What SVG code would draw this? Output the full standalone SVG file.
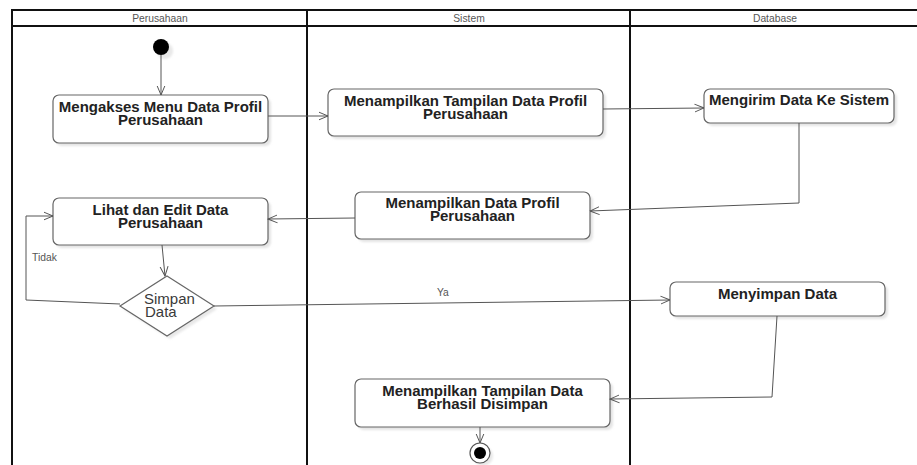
<svg xmlns="http://www.w3.org/2000/svg" width="917" height="465" viewBox="0 0 917 465">
  <style>
    .lane { stroke: #111; stroke-width: 2; fill: none; }
    .hdr { font-family: "Liberation Sans", Arial, sans-serif; font-size: 10.3px; fill: #555; text-anchor: middle; }
    .box { fill: #fff; stroke: #666; stroke-width: 1.2; }
    .shadow { fill: #e4e4e4; filter: url(#soft); }
    .lbl { font-family: "Liberation Sans", Arial, sans-serif; font-size: 15px; font-weight: bold; fill: #222; text-anchor: middle; }
    .dlbl { font-family: "Liberation Sans", Arial, sans-serif; font-size: 15px; fill: #3a3a3a; }
    .glbl { font-family: "Liberation Sans", Arial, sans-serif; font-size: 10.3px; fill: #555; }
    .edge { stroke: #555; stroke-width: 1; fill: none; marker-end: url(#open); }
  </style>
  <defs>
    <filter id="soft" x="-10%" y="-10%" width="120%" height="130%">
      <feGaussianBlur stdDeviation="1.2"/>
    </filter>
    <marker id="open" viewBox="0 0 10 10" refX="9.5" refY="5" markerWidth="10" markerHeight="10" markerUnits="userSpaceOnUse" orient="auto">
      <path d="M0,1 L9.5,5 L0,9" fill="none" stroke="#555" stroke-width="1"/>
    </marker>
  </defs>

  <rect width="917" height="465" fill="#fff"/>

  <!-- swimlanes -->
  <g id="lanes">
    <line class="lane" x1="12" y1="10" x2="917" y2="10"/>
    <line class="lane" x1="12" y1="26" x2="917" y2="26"/>
    <line class="lane" x1="12" y1="9" x2="12" y2="465"/>
    <line class="lane" x1="307" y1="9" x2="307" y2="465"/>
    <line class="lane" x1="630" y1="9" x2="630" y2="465"/>
    <text class="hdr" x="160" y="22">Perusahaan</text>
    <text class="hdr" x="469" y="22">Sistem</text>
    <text class="hdr" x="775" y="22">Database</text>
  </g>

  <!-- start -->
  <g id="start">
    <circle cx="165" cy="51" r="8" fill="#e8e8e8" filter="url(#soft)"/>
    <circle cx="161" cy="47" r="8" fill="#000"/>
  </g>

  <g id="n1">
    <rect class="shadow" x="56" y="98" width="215" height="48" rx="6"/>
    <rect class="box" x="53" y="95" width="215" height="48" rx="6"/>
    <text class="lbl" x="160.5" y="112">Mengakses Menu Data Profil<tspan x="160.5" dy="13">Perusahaan</tspan></text>
  </g>

  <g id="n2">
    <rect class="shadow" x="331" y="92" width="275" height="47" rx="6"/>
    <rect class="box" x="328" y="89" width="275" height="47" rx="6"/>
    <text class="lbl" x="465.5" y="106">Menampilkan Tampilan Data Profil<tspan x="465.5" dy="13">Perusahaan</tspan></text>
  </g>

  <g id="n3">
    <rect class="shadow" x="707" y="92" width="190" height="34" rx="6"/>
    <rect class="box" x="704" y="89" width="190" height="34" rx="6"/>
    <text class="lbl" x="799" y="105">Mengirim Data Ke Sistem</text>
  </g>

  <g id="n4">
    <rect class="shadow" x="358" y="195" width="235" height="47" rx="6"/>
    <rect class="box" x="355" y="192" width="235" height="47" rx="6"/>
    <text class="lbl" x="472.5" y="208">Menampilkan Data Profil<tspan x="472.5" dy="13">Perusahaan</tspan></text>
  </g>

  <g id="n5">
    <rect class="shadow" x="56" y="201" width="215" height="47" rx="6"/>
    <rect class="box" x="53" y="198" width="215" height="47" rx="6"/>
    <text class="lbl" x="160.5" y="215">Lihat dan Edit Data<tspan x="160.5" dy="13">Perusahaan</tspan></text>
  </g>

  <g id="decision">
    <polygon points="170,279 217,309 170,339 123,309" fill="#e8e8e8" filter="url(#soft)"/>
    <polygon points="167,276 214,306 167,336 120,306" fill="#fff" stroke="#666" stroke-width="1.2"/>
    <text class="dlbl" x="144" y="304">Simpan<tspan x="145" dy="13">Data</tspan></text>
  </g>

  <g id="n6">
    <rect class="shadow" x="673" y="285" width="215" height="34" rx="6"/>
    <rect class="box" x="670" y="282" width="215" height="34" rx="6"/>
    <text class="lbl" x="777.5" y="299">Menyimpan Data</text>
  </g>

  <g id="n7">
    <rect class="shadow" x="358" y="382" width="255" height="48" rx="6"/>
    <rect class="box" x="355" y="379" width="255" height="48" rx="6"/>
    <text class="lbl" x="482.5" y="396">Menampilkan Tampilan Data<tspan x="482.5" dy="13">Berhasil Disimpan</tspan></text>
  </g>

  <!-- end -->
  <g id="end">
    <circle cx="483" cy="456" r="10" fill="#e8e8e8" filter="url(#soft)"/>
    <circle cx="480" cy="453" r="10" fill="#fff" stroke="#555" stroke-width="1.2"/>
    <circle cx="480" cy="453" r="6" fill="#000"/>
  </g>

  <!-- connectors -->
  <g id="edges">
    <path class="edge" d="M161,55 L161,95"/>
    <path class="edge" d="M268,116 L328,116"/>
    <path class="edge" d="M603,109 L704,108"/>
    <path class="edge" d="M799,123 L799,203 L590,211"/>
    <path class="edge" d="M355,218 L268,219"/>
    <path class="edge" d="M162,245 L165,276"/>
    <path class="edge" d="M120,304 L26,300 L26,216 L53,216"/>
    <path class="edge" d="M214,306 L670,300"/>
    <path class="edge" d="M777,316 L772,397 L610,399"/>
    <path class="edge" d="M480,427 L480,443"/>
    <text class="glbl" x="32" y="261">Tidak</text>
    <text class="glbl" x="437" y="296">Ya</text>
  </g>
</svg>
